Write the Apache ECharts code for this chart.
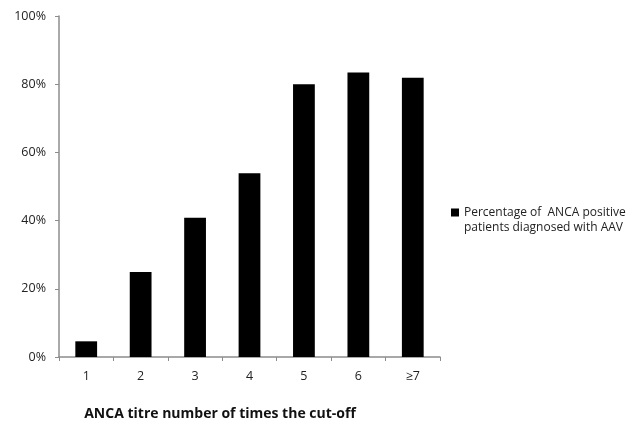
<!DOCTYPE html>
<html>
<head>
<meta charset="utf-8">
<script src="https://cdn.jsdelivr.net/npm/echarts@6/dist/echarts.min.js"></script>
<style>html,body{margin:0;padding:0;background:#fff}#c{width:641px;height:427px}</style>
</head>
<body>
<div id="c"></div>
<script>
var categories = ['1', '2', '3', '4', '5', '6', '\u22657'];
var percentages = [4.6, 24.9, 40.8, 53.9, 80.0, 83.4, 81.9];
var seriesName = 'Percentage of  ANCA positive\npatients diagnosed with AAV';
var xTitle = 'ANCA titre number of times the cut-off';
var yTicks = [0, 20, 40, 60, 80, 100];

var chart = echarts.init(document.getElementById('c'), null, {renderer: 'canvas'});
var font = '"Open Sans", "Noto Sans", sans-serif';
chart.setOption({
  animation: false,
  backgroundColor: '#fff',
  grid: {left: 59, right: 201, top: 16, bottom: 70},
  legend: {
    left: 451, top: 205,
    orient: 'vertical',
    padding: 0,
    itemWidth: 8, itemHeight: 30, itemGap: 4,
    icon: 'path://M0,3.5L8,3.5L8,11.5L0,11.5Z M0,0L0.01,0L0.01,0.01Z M0,30L0.01,30L0.01,30.01Z',
    textStyle: {fontFamily: font, fontSize: 12, color: '#222', lineHeight: 15},
    data: [seriesName]
  },
  xAxis: {
    type: 'category',
    data: categories,
    axisLine: {lineStyle: {color: '#8c8c8c', width: 1.5}},
    axisTick: {show: true, alignWithLabel: false, length: 4, lineStyle: {color: '#8c8c8c'}},
    axisLabel: {fontFamily: font, fontSize: 12.5, color: '#222', margin: 13},
    name: xTitle,
    nameLocation: 'middle',
    nameGap: 50,
    nameTextStyle: {fontFamily: font, fontSize: 14, fontWeight: 'bold', color: '#111', padding: [0, 59, 0, 0]}
  },
  yAxis: {
    type: 'value',
    min: yTicks[0], max: yTicks[yTicks.length - 1], interval: 20,
    axisLine: {show: true, lineStyle: {color: '#8c8c8c', width: 1.5}},
    axisTick: {show: true, length: 4, lineStyle: {color: '#8c8c8c'}},
    splitLine: {show: false},
    axisLabel: {fontFamily: font, fontSize: 12.5, color: '#222', margin: 13, formatter: '{value}%'}
  },
  series: [{
    name: seriesName,
    type: 'bar',
    data: percentages,
    barWidth: '40%',
    itemStyle: {color: '#000'}
  }]
});
</script>
</body>
</html>
